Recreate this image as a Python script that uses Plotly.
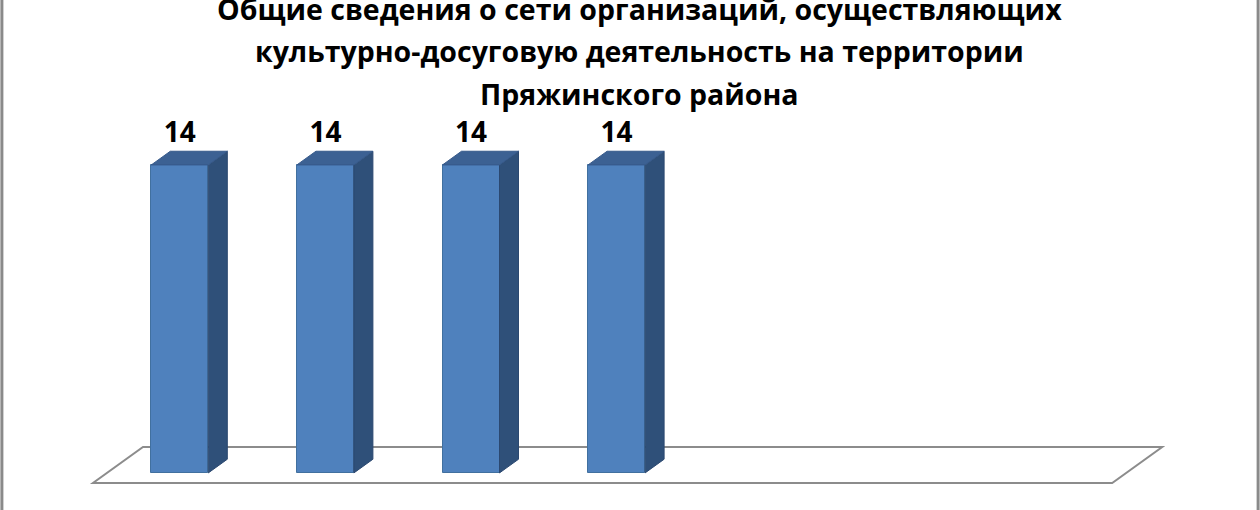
import plotly.graph_objects as go

# ---- data ----
positions = [1, 2, 3, 4, 5, 6, 7]
values = [14, 14, 14, 14, None, None, None]
value_labels = ["14", "14", "14", "14", "", "", ""]
title_lines = [
    "Общие сведения о сети организаций, осуществляющих",
    "культурно-досуговую деятельность на территории",
    "Пряжинского района",
]

# ---- geometry / style constants ----
W, H = 1260, 510
px_x = 145.6          # pixels per category
px_y = 22.0           # pixels per value unit
floor_left_px = 93
floor_front_px = 483
depth_x = 50 / px_x   # floor depth vector in data units
depth_y = 36 / px_y
f0, f1 = 0.28, 0.66   # bar front/back position within the depth
bar_w = 57 / px_x

x_range = [0.5 - floor_left_px / px_x, 0.5 + (W - floor_left_px) / px_x]
y_range = [-(H - floor_front_px) / px_y, floor_front_px / px_y]

FRONT = "#4F81BD"
SIDE = "#2F5079"
TOP = "#3C6193"
FONT = "Open Sans"

fig = go.Figure()

xs = [p + f0 * depth_x for p in positions]
base = f0 * depth_y
sdx = (f1 - f0) * depth_x
sdy = (f1 - f0) * depth_y

# front faces
fig.add_trace(go.Bar(
    x=xs, y=values, base=[base] * len(values), width=bar_w,
    marker=dict(color=FRONT, line=dict(color="#41709F", width=1)),
    hoverinfo="skip", showlegend=False,
))

# side and top faces
for x, v in zip(xs, values):
    if v is None:
        continue
    xl, xr = x - bar_w / 2, x + bar_w / 2
    top = base + v
    fig.add_trace(go.Scatter(
        x=[xr, xr + sdx, xr + sdx, xr, xr],
        y=[base, base + sdy, top + sdy, top, base],
        fill="toself", fillcolor=SIDE, mode="lines",
        line=dict(color="#2B4870", width=1), hoverinfo="skip", showlegend=False,
    ))
    fig.add_trace(go.Scatter(
        x=[xl, xr, xr + sdx, xl + sdx, xl],
        y=[top, top, top + sdy, top + sdy, top],
        fill="toself", fillcolor=TOP, mode="lines",
        line=dict(color="#36598A", width=1), hoverinfo="skip", showlegend=False,
    ))

# value labels
lab_x = [x for x, v in zip(xs, values) if v is not None]
lab_y = [v + f1 * depth_y + 0.74 for v in values if v is not None]
lab_t = [t for t, v in zip(value_labels, values) if v is not None]
fig.add_trace(go.Scatter(
    x=lab_x, y=lab_y, text=lab_t, mode="text", textposition="middle center",
    textfont=dict(family=FONT, size=28, color="#000000", weight="bold"),
    hoverinfo="skip", showlegend=False,
))

# floor
x0 = positions[0] - 0.5
x1 = positions[-1] + 0.5
floor_path = (f"M {x0},0 L {x1},0 L {x1 + depth_x},{depth_y} "
              f"L {x0 + depth_x},{depth_y} Z")
shapes = [
    dict(type="path", path=floor_path, xref="x", yref="y",
         line=dict(color="#8C8C8C", width=2), layer="below"),
    dict(type="line", xref="paper", yref="paper", x0=0.0015, x1=0.0015, y0=0, y1=1,
         line=dict(color="#8A8A8A", width=3)),
    dict(type="line", xref="paper", yref="paper", x0=0.9985, x1=0.9985, y0=0, y1=1,
         line=dict(color="#8A8A8A", width=3)),
]

annotations = []
for i, (line, ypx) in enumerate(zip(title_lines, [9, 51, 94])):
    annotations.append(dict(
        text=line, xref="paper", yref="paper", x=639 / W, y=1 - ypx / H,
        xanchor="center", yanchor="middle", showarrow=False,
        font=dict(family=FONT, size=28.5, color="#000000", weight="bold"),
    ))

fig.update_layout(
    width=W, height=H, autosize=False,
    margin=dict(l=0, r=0, t=0, b=0),
    paper_bgcolor="white", plot_bgcolor="white",
    xaxis=dict(range=x_range, visible=False, fixedrange=True),
    yaxis=dict(range=y_range, visible=False, fixedrange=True),
    shapes=shapes, annotations=annotations, bargap=0,
)

fig.write_html("out.html", config={"displayModeBar": False},
               post_script="document.body.style.margin='0';")
